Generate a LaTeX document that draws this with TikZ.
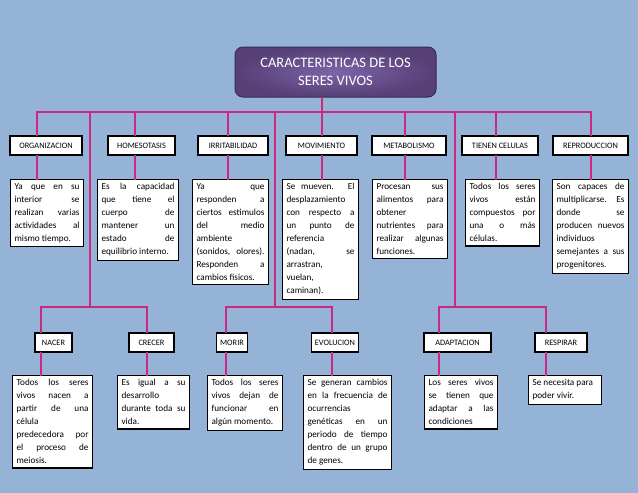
\documentclass[tikz,border=0pt]{standalone}
\usepackage{fontspec}
\setmainfont{Carlito}
\usepackage{tikz}
\definecolor{bgblue}{RGB}{149,179,215}
\definecolor{linkpink}{RGB}{204,40,128}
\definecolor{titlein}{RGB}{126,100,168}
\definecolor{titleout}{RGB}{86,64,118}
\definecolor{titleline}{RGB}{58,44,78}
\tolerance=10000
\hyphenpenalty=10000
\hbadness=10000

\begin{document}
\begin{tikzpicture}[x=1pt, y=-1pt,
  lbl/.style={draw=black, line width=1.1pt, fill=white, minimum height=19pt,
    inner sep=0pt, font=\fontsize{8.3}{9}\selectfont},
  desc/.style={draw=black, line width=1.1pt, fill=white, anchor=north west,
    inner xsep=4pt, inner ysep=4pt, align=justify,
    font=\fontsize{9.2}{13}\selectfont},
  conn/.style={draw=linkpink, line width=2pt, line cap=rect}]
  \fill[bgblue] (0,0) rectangle (638,493);
  % title
  \node[draw=titleline, line width=1pt, rounded corners=8pt, inner color=titlein,
    outer color=titleout, minimum width=201pt, minimum height=50pt, align=center,
    text=white, font=\fontsize{14.5}{18}\selectfont] (title) at (335.5,72)
    {CARACTERISTICAS DE LOS\\SERES VIVOS};
  % upper row: labels
  \node[lbl, minimum width=72pt] (org) at (46,145.5) {ORGANIZACION};
  \node[lbl, minimum width=67pt] (hom) at (141.5,145.5) {HOMESOTASIS};
  \node[lbl, minimum width=70pt] (irr) at (233,145.5) {IRRITABILIDAD};
  \node[lbl, minimum width=71pt] (mov) at (321.5,145.5) {MOVIMIENTO};
  \node[lbl, minimum width=74pt] (met) at (409,145.5) {METABOLISMO};
  \node[lbl, minimum width=76pt] (cel) at (500,145.5) {TIENEN CELULAS};
  \node[lbl, minimum width=75pt] (rep) at (590.5,145.5) {REPRODUCCION};
  % upper row: texts
  \node[desc, text width=65pt] (dorg) at (10,179) {Ya que en su\linebreak
    interior se\linebreak realizan varias\linebreak actividades al\linebreak
    mismo tiempo.};
  \node[desc, text width=73pt] (dhom) at (97,179) {Es la capacidad\linebreak
    que tiene el\linebreak cuerpo de\linebreak mantener un\linebreak
    estado de\linebreak equilibrio interno.};
  \node[desc, text width=68pt] (dirr) at (192,179) {Ya que\linebreak
    responden a\linebreak ciertos estimulos\linebreak del medio\linebreak
    ambiente\\ (sonidos, olores).\linebreak Responden a\linebreak
    cambios fisicos.};
  \node[desc, text width=68pt] (dmov) at (282,179) {Se mueven. El\linebreak
    desplazamiento\\ con respecto a\linebreak un punto de\linebreak
    referencia\\ (nadan, se\linebreak arrastran,\\ vuelan,\\ caminan).};
  \node[desc, text width=67pt] (dmet) at (372,179) {Procesan sus\linebreak
    alimentos para\linebreak obtener\\ nutrientes para\linebreak
    realizar algunas\linebreak funciones.};
  \node[desc, text width=66pt] (dcel) at (465,179) {Todos los seres\linebreak
    vivos están\linebreak compuestos por\linebreak una o más\linebreak
    células.};
  \node[desc, text width=68pt] (drep) at (552,179) {Son capaces de\linebreak
    multiplicarse. Es\linebreak donde se\linebreak producen nuevos\linebreak
    individuos\\ semejantes a sus\linebreak progenitores.};
  % lower row: labels
  \node[lbl, minimum width=37pt] (nac) at (53.5,342.5) {NACER};
  \node[lbl, minimum width=45pt] (cre) at (151.5,342.5) {CRECER};
  \node[lbl, minimum width=31pt] (mor) at (232,342.5) {MORIR};
  \node[lbl, minimum width=47pt] (evo) at (335,342.5) {EVOLUCION};
  \node[lbl, minimum width=67pt] (ada) at (457.5,342.5) {ADAPTACION};
  \node[lbl, minimum width=52pt] (res) at (561,342.5) {RESPIRAR};
  % lower row: texts
  \node[desc, text width=72pt] (dnac) at (12,375) {Todos los seres\linebreak
    vivos nacen a\linebreak partir de una\linebreak célula\\
    predecedora por\linebreak el proceso de\linebreak meiosis.};
  \node[desc, text width=64pt] (dcre) at (117,375) {Es igual a su\linebreak
    desarrollo\\ durante toda su\linebreak vida.};
  \node[desc, text width=67pt] (dmor) at (207,375) {Todos los seres\linebreak
    vivos dejan de\linebreak funcionar en\linebreak algún momento.};
  \node[desc, text width=80pt] (devo) at (303,375) {Se generan cambios\linebreak
    en la frecuencia de\linebreak ocurrencias\\ genéticas en un\linebreak
    periodo de tiempo\linebreak dentro de un grupo\linebreak de genes.};
  \node[desc, text width=65pt] (dada) at (424,375) {Los seres vivos\linebreak
    se tienen que\linebreak adaptar a las\linebreak condiciones};
  \node[desc, text width=65pt] (dres) at (528,375) {Se necesita para\\
    poder vivir.};
  % connectors
  \coordinate (jtit) at (322,112);
  \draw[conn] (title.south -| jtit) -- (jtit);
  \foreach \nm/\xv in {org/37,hom/135,irr/228,mov/322,met/405,cel/496,rep/591}{
    \coordinate (j\nm) at (\xv,112);
    \draw[conn] (j\nm) -- (\nm.north -| j\nm);
    \draw[conn] (\nm.south -| j\nm) -- (d\nm.north -| j\nm);
  }
  \draw[conn] (jorg) -- (jrep);
  \foreach \nm/\xv in {nac/41,cre/147,mor/226,evo/332,ada/439,res/546}{
    \coordinate (j\nm) at (\xv,307);
    \draw[conn] (j\nm) -- (\nm.north -| j\nm);
    \draw[conn] (\nm.south -| j\nm) -- (d\nm.north -| j\nm);
  }
  \draw[conn] (jnac) -- (jcre);
  \draw[conn] (jmor) -- (jevo);
  \draw[conn] (jada) -- (jres);
  % long drops to the lower row
  \coordinate (ka) at (90,112);
  \coordinate (kb) at (275,112);
  \coordinate (kc) at (455,112);
  \draw[conn] (ka) -- (ka |- jnac);
  \draw[conn] (kb) -- (kb |- jmor);
  \draw[conn] (kc) -- (kc |- jada);
\end{tikzpicture}
\end{document}
